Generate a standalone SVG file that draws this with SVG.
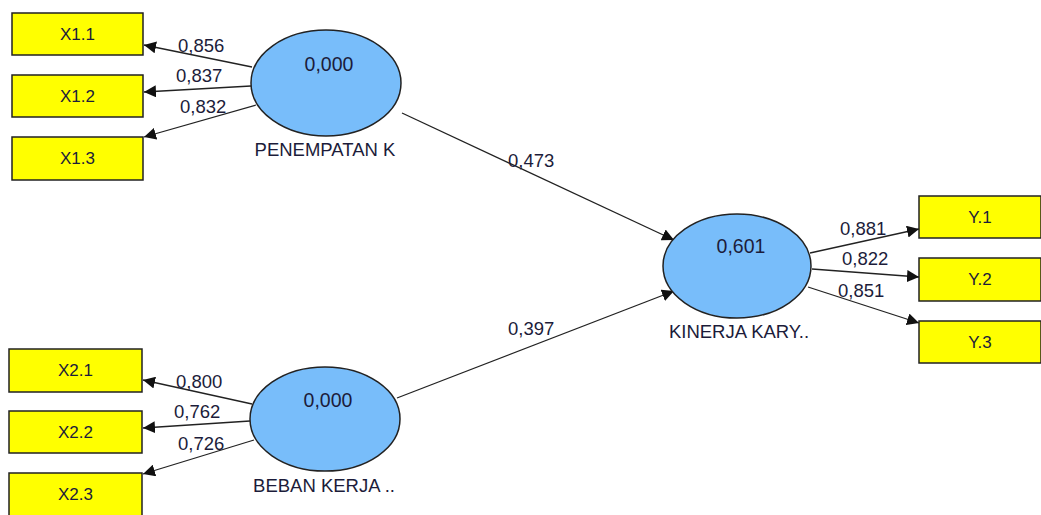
<svg xmlns="http://www.w3.org/2000/svg" width="1041" height="515" viewBox="0 0 1041 515">
<style>
.box{fill:#ffff00;stroke:#222;stroke-width:1.5}
.lv{fill:#78bdfa;stroke:#222;stroke-width:1.5}
.t{font-family:"Liberation Sans",Arial,sans-serif;fill:#1c1c3a}
.bt{font-size:17px;text-anchor:middle}
.v{font-size:19.5px;text-anchor:middle}
.n{font-size:18.5px;text-anchor:middle}
.w{font-size:18.5px}
.c{stroke:#222;stroke-width:1.3;fill:none;marker-end:url(#ah)}
</style>
<defs>
<marker id="ah" viewBox="0 0 10 10" refX="10" refY="5" markerWidth="12" markerHeight="12" markerUnits="userSpaceOnUse" orient="auto">
<path d="M0,0 L10,5 L0,10 z" fill="#111"/>
</marker>
</defs>
<rect width="1041" height="515" fill="#fff"/>
<g id="connectors">
<line class="c" x1="252" y1="67" x2="144" y2="45"/>
<line class="c" x1="251" y1="86" x2="144" y2="92"/>
<line class="c" x1="256" y1="105" x2="144" y2="137"/>
<line class="c" x1="252" y1="404" x2="143" y2="380"/>
<line class="c" x1="250" y1="421" x2="143" y2="428"/>
<line class="c" x1="254" y1="440" x2="143" y2="474"/>
<line class="c" x1="810" y1="253" x2="919" y2="229"/>
<line class="c" x1="812" y1="269" x2="919" y2="277"/>
<line class="c" x1="808" y1="287" x2="919" y2="323"/>
<line class="c" x1="402" y1="113" x2="674" y2="240"/>
<line class="c" x1="397" y1="398" x2="674" y2="291"/>
<g class="t w">
<text x="178" y="52">0,856</text>
<text x="176" y="82">0,837</text>
<text x="180" y="113">0,832</text>
<text x="176" y="388">0,800</text>
<text x="174" y="418">0,762</text>
<text x="178" y="450">0,726</text>
<text x="840" y="235">0,881</text>
<text x="842" y="265">0,822</text>
<text x="838" y="297">0,851</text>
<text x="508" y="167">0,473</text>
<text x="508" y="335">0,397</text>
</g>
</g>
<g id="X1.1"><rect class="box" x="12" y="13" width="131" height="42"/><text class="t bt" x="77.5" y="40">X1.1</text></g>
<g id="X1.2"><rect class="box" x="12" y="75" width="131" height="42"/><text class="t bt" x="77.5" y="102">X1.2</text></g>
<g id="X1.3"><rect class="box" x="12" y="137" width="131" height="43"/><text class="t bt" x="77.5" y="164">X1.3</text></g>
<g id="X2.1"><rect class="box" x="9" y="349" width="133" height="43"/><text class="t bt" x="75.5" y="376">X2.1</text></g>
<g id="X2.2"><rect class="box" x="9" y="411" width="133" height="42"/><text class="t bt" x="75.5" y="438">X2.2</text></g>
<g id="X2.3"><rect class="box" x="9" y="473" width="133" height="44"/><text class="t bt" x="75.5" y="500">X2.3</text></g>
<g id="Y.1"><rect class="box" x="919" y="196" width="122" height="42"/><text class="t bt" x="980" y="223">Y.1</text></g>
<g id="Y.2"><rect class="box" x="919" y="258" width="122" height="43"/><text class="t bt" x="980" y="285">Y.2</text></g>
<g id="Y.3"><rect class="box" x="919" y="321" width="122" height="42"/><text class="t bt" x="980" y="348">Y.3</text></g>
<g id="PENEMPATAN"><ellipse class="lv" cx="326" cy="83" rx="75" ry="53"/><text class="t v" x="329" y="71">0,000</text><text class="t n" x="325" y="156">PENEMPATAN K</text></g>
<g id="BEBAN"><ellipse class="lv" cx="325" cy="419" rx="75" ry="52"/><text class="t v" x="328" y="407">0,000</text><text class="t n" x="324" y="492">BEBAN KERJA ..</text></g>
<g id="KINERJA"><ellipse class="lv" cx="737" cy="266" rx="74" ry="52"/><text class="t v" x="741" y="253">0,601</text><text class="t n" x="739" y="338">KINERJA KARY..</text></g>
</svg>
